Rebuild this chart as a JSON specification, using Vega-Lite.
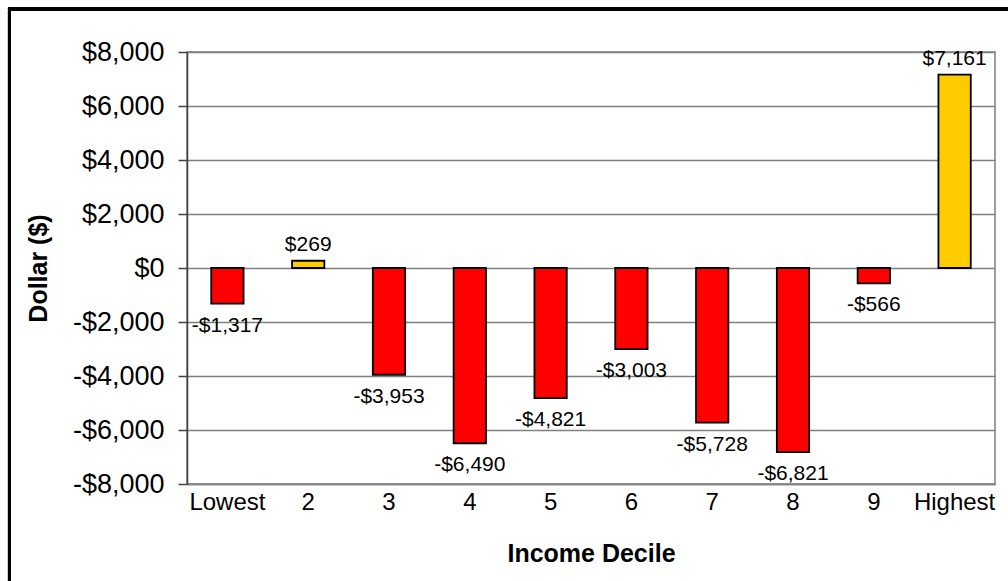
{
  "$schema": "https://vega.github.io/schema/vega-lite/v6.json",
  "autosize": {"type": "none"},
  "width": 808,
  "height": 432,
  "padding": {"left": 187, "top": 52, "right": 13, "bottom": 97},
  "background": "white",
  "config": {
    "font": "Liberation Sans",
    "view": {"stroke": "#808080", "strokeWidth": 1.5}
  },
  "data": {
    "values": [
      {"decile": "Lowest", "value": -1317},
      {"decile": "2", "value": 269},
      {"decile": "3", "value": -3953},
      {"decile": "4", "value": -6490},
      {"decile": "5", "value": -4821},
      {"decile": "6", "value": -3003},
      {"decile": "7", "value": -5728},
      {"decile": "8", "value": -6821},
      {"decile": "9", "value": -566},
      {"decile": "Highest", "value": 7161}
    ]
  },
  "transform": [
    {"calculate": "(datum.value < 0 ? '-' : '') + '$' + format(abs(datum.value), ',')", "as": "label"}
  ],
  "layer": [
    {
      "mark": {"type": "rect", "fill": null, "stroke": "black", "strokeWidth": 3, "clip": false},
      "encoding": {
        "x": {"datum": -0.2197, "type": "quantitative", "scale": {"domain": [0, 1], "nice": false, "zero": false}, "axis": null},
        "x2": {"datum": 1.03},
        "y": {"datum": 1.0995, "type": "quantitative", "scale": {"domain": [0, 1], "nice": false, "zero": false}, "axis": null},
        "y2": {"datum": -0.3}
      }
    },
    {
      "layer": [
        {
          "mark": {"type": "bar", "stroke": "black", "strokeWidth": 1.8},
          "encoding": {
            "x": {
              "field": "decile", "type": "nominal", "sort": null,
              "scale": {"paddingInner": 0.6, "paddingOuter": 0.3},
              "axis": {
                "title": "Income Decile", "labelAngle": 0, "ticks": false,
                "labelFontSize": 24, "labelColor": "black", "labelPadding": 6,
                "domainColor": "#808080", "domainWidth": 1.5,
                "titleFontSize": 25, "titleFontWeight": "bold", "titleColor": "black", "titlePadding": 27
              }
            },
            "y": {
              "field": "value", "type": "quantitative",
              "scale": {"domain": [-8000, 8000], "nice": false},
              "axis": {
                "title": "Dollar ($)", "values": [-8000, -6000, -4000, -2000, 0, 2000, 4000, 6000, 8000],
                "labelExpr": "(datum.value < 0 ? '-' : '') + '$' + format(abs(datum.value), ',')",
                "labelFontSize": 27, "labelColor": "black", "labelPadding": 14,
                "tickSize": 9, "tickColor": "#404040", "tickWidth": 1.5,
                "domainColor": "#404040", "domainWidth": 1.5,
                "grid": true, "gridColor": "#808080", "gridWidth": 1.5,
                "titleFontSize": 25, "titleFontWeight": "bold", "titleColor": "black", "titlePadding": 21
              }
            },
            "color": {"condition": {"test": "datum.value > 0", "value": "#FFCC00"}, "value": "#FF0000"}
          }
        },
        {
          "transform": [{"filter": "datum.value < 0"}],
          "mark": {"type": "text", "fontSize": 21, "baseline": "top", "dy": 11, "color": "black"},
          "encoding": {
            "x": {"field": "decile", "type": "nominal", "sort": null},
            "y": {"field": "value", "type": "quantitative"},
            "text": {"field": "label"}
          }
        },
        {
          "transform": [{"filter": "datum.value >= 0"}],
          "mark": {"type": "text", "fontSize": 21, "baseline": "bottom", "dy": -6, "color": "black"},
          "encoding": {
            "x": {"field": "decile", "type": "nominal", "sort": null},
            "y": {"field": "value", "type": "quantitative"},
            "text": {"field": "label"}
          }
        }
      ]
    }
  ],
  "resolve": {"scale": {"x": "independent", "y": "independent"}}
}
